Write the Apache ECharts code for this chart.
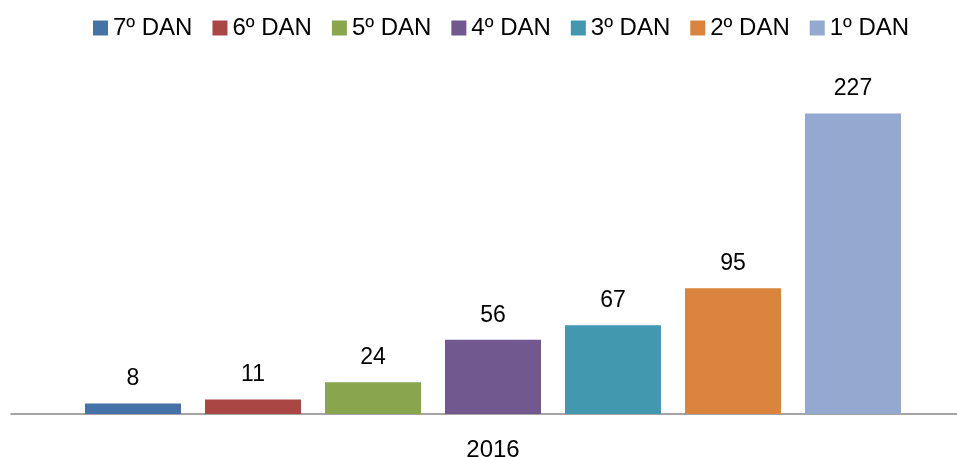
<!DOCTYPE html>
<html>
<head>
<meta charset="utf-8">
<script src="https://cdn.jsdelivr.net/npm/echarts@6/dist/echarts.min.js"></script>
<style>
  html, body { margin: 0; padding: 0; background: #fff; }
  #chart { width: 957px; height: 457px; }
</style>
</head>
<body>
<div id="chart"></div>
<script>
var categories = ['2016'];
var seriesNames = ['7º DAN', '6º DAN', '5º DAN', '4º DAN', '3º DAN', '2º DAN', '1º DAN'];
var seriesValues = [8, 11, 24, 56, 67, 95, 227];
var colors = ['#4572A7', '#AA4643', '#89A54E', '#71588F', '#4198AF', '#DB843D', '#93A9CF'];

var font = 'Liberation Sans, Arial, sans-serif';

var series = seriesNames.map(function (name, i) {
    return {
        name: name,
        type: 'bar',
        data: [seriesValues[i]],
        barWidth: 96,
        barGap: '25%',
        itemStyle: { color: colors[i] },
        label: {
            show: true,
            position: 'top',
            distance: 13,
            color: '#000',
            fontFamily: font,
            fontSize: 23
        }
    };
});

var chart = echarts.init(document.getElementById('chart'));
chart.setOption({
    animation: false,
    color: colors,
    legend: {
        data: seriesNames,
        top: 11,
        left: 88,
        itemWidth: 15,
        itemHeight: 15,
        itemGap: 20,
        icon: 'rect',
        textStyle: { color: '#000', fontFamily: font, fontSize: 24 }
    },
    grid: { left: 11, width: 964, top: 83, bottom: 43, containLabel: false, outerBoundsMode: 'none' },
    xAxis: {
        type: 'category',
        data: categories,
        axisLine: { lineStyle: { color: '#868686', width: 1.5 } },
        axisTick: { show: false },
        axisLabel: { color: '#000', fontFamily: font, fontSize: 24, margin: 24 }
    },
    yAxis: {
        type: 'value',
        min: 0,
        max: 250,
        show: false,
        splitLine: { show: false }
    },
    series: series
});
</script>
</body>
</html>
